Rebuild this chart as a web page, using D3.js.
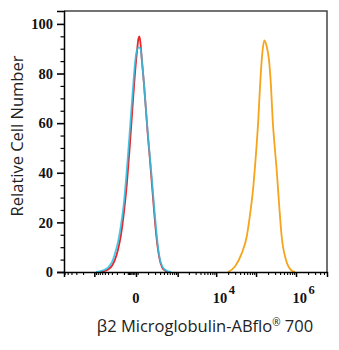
<!DOCTYPE html>
<html>
<head>
<meta charset="utf-8">
<script src="https://cdn.jsdelivr.net/npm/d3@7"></script>
<style>
  html, body { margin: 0; padding: 0; background: #fff; }
  svg { display: block; }
</style>
</head>
<body>
<svg id="chart" width="339" height="350"></svg>
<script>
// ---- data ----
const redX    = [-694,-531,-401,-298,-235,-182,-137,-100,-68,-41,-19,-6,6,15,22,30,41,58,78,100,124,151,182,216,255,298,347,431,531];
const redY    = [0,0.3,1,2.5,5,9,15,24,36,52,69,80,89,94,95,92,85,76,65,54,45,35,25,16,9,4.5,2,0.6,0];
const cyanX   = [-900,-694,-531,-401,-298,-235,-182,-137,-100,-68,-41,-19,-6,6,19,30,41,58,78,100,124,151,182,216,255,298,347,431,531,650];
const cyanY   = [0,0.3,0.8,1.8,4,7.5,12,19,28,42,58,74,84,89.5,90.5,90,85,76,65,55,46,37,27,18,10,5,2.5,0.9,0.3,0];
const orangeX = [19850,29750,43800,58450,67900,85500,99900,114000,125800,143600,161000,185000,211000,237000,261000,298600,329000,376000,438700,562400,781000,944500];
const orangeY = [0,2.2,7.5,14.2,21,34.4,47.8,61.3,74.7,88.2,93.3,90.9,85.5,74.7,61.3,49,41,27.7,14.2,4.8,0.5,0];

const yTicks = [0, 20, 40, 60, 80, 100];
const yMinor = d3.range(0, 101, 5);
const xMajor = [-1000, 0, 1000, 10000, 100000, 1000000];
const xMinor = [].concat(
  [-6000,-5000,-4000,-3000,-2000],
  [-900,-800,-700,-600,-500,-400,-300,-200,-100],
  [-60,-50,-40,-30,-20,-10,10],
  [100,200,300,400,500,600,700,800,900],
  [2000,3000,4000,5000,6000,7000,8000,9000],
  [20000,30000,40000,50000,60000,70000,80000,90000],
  [200000,300000,400000,500000,600000,700000,800000,900000],
  [2000000,3000000,4000000,5000000]
);
const xLabels = [
  { v: 0, base: "0", exp: "" },
  { v: 10000, base: "10", exp: "4" },
  { v: 1000000, base: "10", exp: "6" }
];
const xTitleParts = ["β2 Microglobulin-ABflo", "®", " 700"];
const yTitle = "Relative Cell Number";

// ---- layout ----
const L = 64, R = 327, T = 11, B = 272;
const svg = d3.select("#chart");
svg.append("rect").attr("width", 339).attr("height", 350).attr("fill", "#fff");

const x = d3.scaleSymlog().constant(100).domain([-6200, 5950000]).range([L, R]);
const y = d3.scaleLinear().domain([0, 105.2]).range([B, T]);

// curves
const line = d3.line().x(d => x(d[0])).y(d => y(d[1])).curve(d3.curveMonotoneX);
const series = [
  { xs: redX, ys: redY, color: "#e8262b", op: 1 },
  { xs: cyanX, ys: cyanY, color: "#2cc0e4", op: 0.88 },
  { xs: orangeX, ys: orangeY, color: "#f5a41c", op: 1 }
];
series.forEach(s => {
  svg.append("path")
    .datum(s.xs.map((v, i) => [v, s.ys[i]]))
    .attr("d", line)
    .attr("fill", "none")
    .attr("stroke", s.color)
    .attr("stroke-opacity", s.op)
    .attr("stroke-width", 1.8)
    .attr("stroke-linejoin", "round");
});

// frame (top/right)
svg.append("path")
  .attr("d", `M${L},${T}H${R}V${B}`)
  .attr("fill", "none").attr("stroke", "#444").attr("stroke-width", 1.5);

// y axis
const yAxisMajor = d3.axisLeft(y).tickValues(yTicks).tickSize(7).tickFormat(d3.format("d"));
const gy = svg.append("g").attr("transform", `translate(${L},0)`).call(yAxisMajor);
gy.select(".domain").attr("stroke", "#000").attr("stroke-width", 1.5);
gy.selectAll(".tick line").attr("stroke", "#000").attr("stroke-width", 1.6);
gy.selectAll(".tick text")
  .attr("x", -11)
  .attr("font-family", "'Liberation Serif', serif")
  .attr("font-weight", "bold")
  .attr("font-size", 14.5)
  .attr("fill", "#111");
const gyMinor = svg.append("g").attr("transform", `translate(${L},0)`)
  .call(d3.axisLeft(y).tickValues(yMinor.filter(v => v % 20 !== 0)).tickSize(3.5).tickFormat(""));
gyMinor.select(".domain").remove();
gyMinor.selectAll(".tick line").attr("stroke", "#000").attr("stroke-width", 1.2);

// x axis
const gx = svg.append("g").attr("transform", `translate(0,${B})`)
  .call(d3.axisBottom(x).tickValues(xMajor).tickSize(5).tickFormat(""));
gx.select(".domain").attr("stroke", "#000").attr("stroke-width", 1.5);
gx.selectAll(".tick line").attr("stroke", "#000").attr("stroke-width", 1.5);
const gxMinor = svg.append("g").attr("transform", `translate(0,${B})`)
  .call(d3.axisBottom(x).tickValues(xMinor).tickSize(3).tickFormat(""));
gxMinor.select(".domain").remove();
gxMinor.selectAll(".tick line").attr("stroke", "#000").attr("stroke-width", 1.1);

// x labels
xLabels.forEach(lb => {
  const t = svg.append("text")
    .attr("y", 303)
    .attr("font-family", "'Liberation Serif', serif")
    .attr("font-weight", "bold")
    .attr("font-size", 14.5)
    .attr("fill", "#111");
  if (lb.exp) {
    t.attr("x", x(lb.v) - 3.5).attr("text-anchor", "start");
    t.append("tspan").text(lb.base);
    t.append("tspan").attr("dx", 1.5).attr("dy", -9).attr("font-size", 12.5).text(lb.exp);
  } else {
    t.attr("x", x(lb.v)).attr("text-anchor", "middle").text(lb.base);
  }
});

// titles
const xt = svg.append("text")
  .attr("x", 205).attr("y", 332)
  .attr("text-anchor", "middle")
  .attr("font-family", "'Open Sans', 'Noto Sans', sans-serif")
  .attr("font-size", 16.5)
  .attr("fill", "#222");
xt.append("tspan").text(xTitleParts[0]);
xt.append("tspan").attr("font-size", 10).attr("dy", -6).text(xTitleParts[1]);
xt.append("tspan").attr("dy", 6).text(xTitleParts[2]);

svg.append("text")
  .attr("transform", "translate(23,136) rotate(-90)")
  .attr("text-anchor", "middle")
  .attr("font-family", "'Open Sans', 'Noto Sans', sans-serif")
  .attr("font-size", 16.5)
  .attr("fill", "#222")
  .text(yTitle);
</script>
</body>
</html>
